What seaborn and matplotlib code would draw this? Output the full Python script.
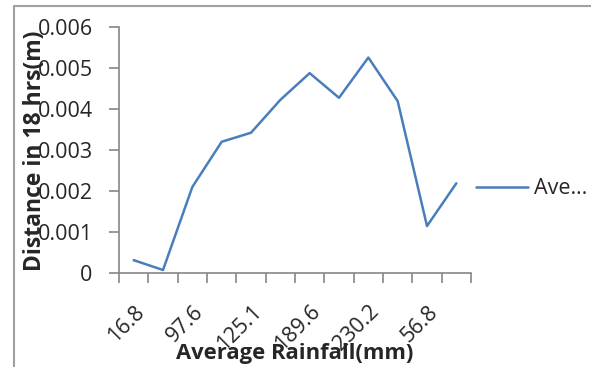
import matplotlib
matplotlib.use("Agg")
import matplotlib.pyplot as plt
import seaborn as sns
import pandas as pd
from matplotlib.lines import Line2D

# Data
rainfall_labels = ["16.8", "54.3", "97.6", "110.4", "125.1", "160.2",
                   "189.6", "210.5", "230.2", "120.7", "56.8", "40.1"]
distance = [0.00032, 0.00008, 0.0021, 0.0032, 0.00342, 0.00422,
            0.00487, 0.00427, 0.00525, 0.00419, 0.00115, 0.00219]
series_label = "Ave…"

df = pd.DataFrame({"pos": list(range(len(distance))), "distance": distance})

sns.set_style("white")
plt.rcParams["font.family"] = ["Open Sans", "DejaVu Sans"]

W, H = 591, 367
fig = plt.figure(figsize=(W / 100, H / 100), dpi=100)
ax = fig.add_axes([119 / W, 1 - 273.3 / H, 352 / W, 246.6 / H])

sns.lineplot(data=df, x="pos", y="distance", ax=ax, color="#4A7EBB",
             linewidth=1.8, label=series_label)

gray = "#868686"
fs = 15.5
ax.set_ylim(0, 0.006)
ax.set_yticks([0, 0.001, 0.002, 0.003, 0.004, 0.005, 0.006])
ax.set_yticklabels(["0", "0.001", "0.002", "0.003", "0.004", "0.005", "0.006"],
                   fontsize=fs)
ax.set_xlim(-0.5, len(distance) - 0.5)
ax.set_xticks(range(0, len(distance), 2))
ax.set_xticklabels(rainfall_labels[::2], rotation=45, ha="right",
                   rotation_mode="anchor", fontsize=fs)
ax.set_xticks([i - 0.5 for i in range(len(distance) + 1)], minor=True)
ax.tick_params(axis="x", which="major", length=0, pad=20)
ax.tick_params(axis="x", which="minor", length=7, color=gray, width=1.2,
               direction="out", bottom=True)
ax.tick_params(axis="y", length=7, color=gray, width=1.2, direction="out",
               left=True, pad=12)

for s in ["top", "right"]:
    ax.spines[s].set_visible(False)
for s in ["left", "bottom"]:
    ax.spines[s].set_color(gray)
    ax.spines[s].set_linewidth(1.2)

ax.set_xlabel("Average Rainfall(mm)", fontsize=15.8, fontweight="bold")
ax.set_ylabel("Distance in 18 hrs(m)", fontsize=16.5, fontweight="bold")
ax.yaxis.label.set_va("center")
ax.xaxis.label.set_va("center")
ax.yaxis.set_label_coords((35 - 119) / 352, 0.498)
ax.xaxis.set_label_coords((294.5 - 119) / 352, (273.3 - 353) / 246.6)

leg = ax.legend(loc="center left", bbox_to_anchor=((476 - 119) / 352, 0.342),
                frameon=False, fontsize=fs, handlelength=2.42,
                handletextpad=0.28, borderaxespad=0, borderpad=0)

# outer chart border (top and left visible)
fig.add_artist(Line2D([14 / W, 14 / W], [0, 1 - 6 / H], color="#A0A0A0",
                      linewidth=1.5, transform=fig.transFigure))
fig.add_artist(Line2D([14 / W, 1], [1 - 6 / H, 1 - 6 / H], color="#A0A0A0",
                      linewidth=1.5, transform=fig.transFigure))

fig.savefig("out.png", dpi=100)
